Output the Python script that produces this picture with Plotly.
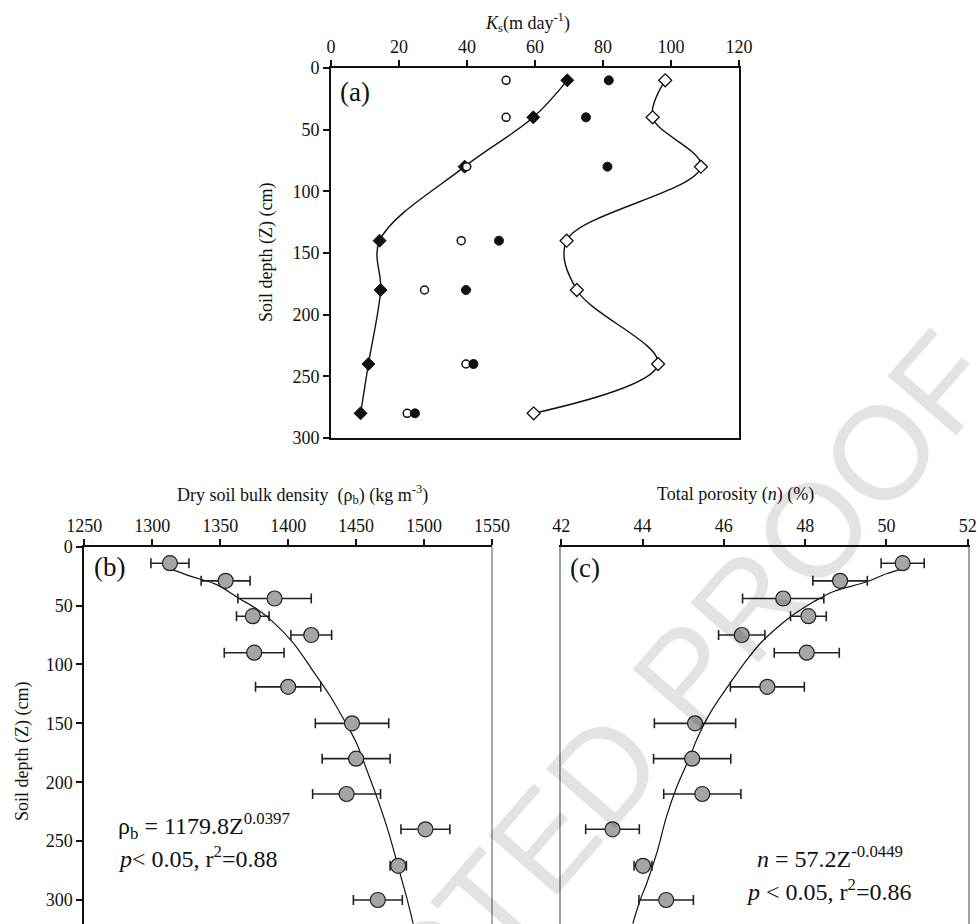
import plotly.graph_objects as go

# ---------------- data ----------------
# Panel (a): saturated hydraulic conductivity Ks (m/day) vs depth (cm)
depth_a = [10, 40, 80, 140, 180, 240, 280]
ks_filled_diamond = [69.5, 59.5, 39.3, 14.3, 14.6, 11.0, 8.7]
ks_open_diamond = [98.3, 94.6, 108.8, 69.3, 72.3, 96.2, 59.6]
ks_open_circle = [51.5, 51.5, 39.9, 38.3, 27.5, 39.7, 22.4]
ks_filled_circle = [81.7, 75.0, 81.3, 49.4, 39.7, 41.9, 24.7]

# Panels (b) and (c): depth (cm)
depth_bc = [14, 29, 44, 59, 75, 90, 119, 150, 180, 210, 240, 271, 300]
# (b) dry bulk density (kg m-3) and error
rho = [1313, 1354, 1390, 1374, 1417, 1375, 1400, 1447, 1450, 1443, 1501, 1481, 1466]
rho_err = [14, 18, 27, 12, 15, 22, 24, 27, 25, 25, 18, 6, 18]
# (c) total porosity (%) and error
por = [50.40, 48.86, 47.46, 48.08, 46.44, 48.04, 47.07, 45.29, 45.22, 45.47, 43.26, 44.01, 44.58]
por_err = [0.53, 0.67, 1.0, 0.44, 0.57, 0.8, 0.91, 1.0, 0.95, 0.95, 0.66, 0.22, 0.67]

# fitted curves
fit_b_depth = [19, 25, 32, 44, 53, 64, 82, 105, 127, 149, 166, 190, 215, 243, 272, 297, 320]
fit_b_rho = [1314, 1328, 1347, 1364, 1377, 1389, 1404, 1418, 1431, 1442, 1450, 1458, 1466, 1474, 1481, 1487, 1492]
fit_c_depth = [19, 23, 30, 38, 47, 58, 69, 82, 99, 116, 142, 164, 178, 204, 229, 260, 286, 300, 320]
fit_c_por = [50.38, 50.0, 49.5, 48.7, 48.2, 47.7, 47.3, 46.9, 46.5, 46.15, 45.65, 45.33, 45.17, 44.84, 44.59, 44.35, 44.1, 43.94, 43.76]

# ---------------- figure ----------------
W, H = 978, 924
SERIF = "Liberation Serif, Times New Roman, serif"
BLACK = "#111111"
GRAY_LINE = "#a0a0a0"
MARKER_GRAY = "#a4a4a9"

def px_x(p):
    return p / W

def px_y(p):
    return 1 - p / H

fig = go.Figure()

# Panel (a)
fig.add_trace(go.Scatter(x=ks_filled_diamond, y=depth_a, mode="lines+markers", xaxis="x", yaxis="y",
                         line=dict(color=BLACK, width=1.4, shape="spline", smoothing=1.0),
                         marker=dict(symbol="diamond", size=10, color=BLACK, line=dict(color=BLACK, width=1))))
fig.add_trace(go.Scatter(x=ks_open_diamond, y=depth_a, mode="lines+markers", xaxis="x", yaxis="y",
                         line=dict(color=BLACK, width=1.4, shape="spline", smoothing=1.0),
                         marker=dict(symbol="diamond", size=10, color="white", line=dict(color=BLACK, width=1.3))))
fig.add_trace(go.Scatter(x=ks_open_circle, y=depth_a, mode="markers", xaxis="x", yaxis="y",
                         marker=dict(symbol="circle", size=8, color="white", line=dict(color=BLACK, width=1.5))))
fig.add_trace(go.Scatter(x=ks_filled_circle, y=depth_a, mode="markers", xaxis="x", yaxis="y",
                         marker=dict(symbol="circle", size=9, color=BLACK, line=dict(color=BLACK, width=1))))

# Panel (b)
fig.add_trace(go.Scatter(x=fit_b_rho, y=fit_b_depth, mode="lines", xaxis="x2", yaxis="y2",
                         line=dict(color=BLACK, width=1.2, shape="spline")))
fig.add_trace(go.Scatter(x=rho, y=depth_bc, mode="markers", xaxis="x2", yaxis="y2",
                         error_x=dict(type="data", array=rho_err, color="#222222", thickness=1.6, width=5),
                         marker=dict(symbol="circle", size=15, color=MARKER_GRAY, line=dict(color="#222222", width=1.2))))

# Panel (c)
fig.add_trace(go.Scatter(x=fit_c_por, y=fit_c_depth, mode="lines", xaxis="x3", yaxis="y3",
                         line=dict(color=BLACK, width=1.2, shape="spline")))
fig.add_trace(go.Scatter(x=por, y=depth_bc, mode="markers", xaxis="x3", yaxis="y3",
                         error_x=dict(type="data", array=por_err, color="#222222", thickness=1.6, width=5),
                         marker=dict(symbol="circle", size=15, color=MARKER_GRAY, line=dict(color="#222222", width=1.2))))

tickfont = dict(family=SERIF, size=18, color=BLACK)
common = dict(showgrid=False, zeroline=False, showline=True, linewidth=1.8, linecolor=BLACK,
              ticks="outside", ticklen=6, tickwidth=1.5, tickcolor=BLACK, tickfont=tickfont,
              automargin=False)

fig.update_layout(
    template="none",
    width=W, height=H,
    margin=dict(l=0, r=0, t=0, b=0, pad=0, autoexpand=False),
    paper_bgcolor="white", plot_bgcolor="white",
    font=dict(family=SERIF, size=18, color=BLACK),
    showlegend=False,
    xaxis=dict(domain=[px_x(331), px_x(739)], range=[0, 120], dtick=20, tick0=0, side="top",
               anchor="y", mirror=True, **common),
    yaxis=dict(domain=[px_y(438), px_y(68)], range=[300, 0], dtick=50, tick0=0,
               anchor="x", mirror=True, **common),
    xaxis2=dict(domain=[px_x(84.3), px_x(492)], range=[1250, 1550], dtick=50, tick0=1250, side="top",
                anchor="y2", **common),
    yaxis2=dict(domain=[0, px_y(546.7)], range=[320.4, 0], dtick=50, tick0=0,
                anchor="x2", **common),
    xaxis3=dict(domain=[px_x(561.3), px_x(967.7)], range=[42, 52], dtick=2, tick0=42, side="top",
                anchor="y3", **common),
    yaxis3=dict(domain=[0, px_y(546.7)], range=[320.4, 0], anchor="x3", showgrid=False, zeroline=False,
                showline=True, linecolor=GRAY_LINE, linewidth=1.8, mirror=True,
                showticklabels=False, ticks="", automargin=False),
)

# right border of panel (b) in gray
fig.add_shape(type="line", xref="x2 domain", yref="y2 domain", x0=1, x1=1, y0=0, y1=1,
              line=dict(color=GRAY_LINE, width=1.8))

def ann(text, x, y, size, xanchor="center", yanchor="middle", angle=0, color=BLACK, family=SERIF):
    fig.add_annotation(text=text, x=px_x(x), y=px_y(y), xref="paper", yref="paper",
                       xanchor=xanchor, yanchor=yanchor, showarrow=False, textangle=angle,
                       font=dict(family=family, size=size, color=color))

# watermark (drawn first so other texts sit on top of it)
ann("UNCORRECTED PROOF", 465, 932, 132, angle=-49, color="rgba(0,0,0,0.11)",
    family="Liberation Sans, Arial, sans-serif")

# axis titles
ann("<i>K</i><sub>s</sub>(m day<sup>-1</sup>)", 527, 22, 18)
ann("Soil depth (Z) (cm)", 266, 253, 18, angle=-90)
ann("Dry soil bulk density  (ρ<sub>b</sub>) (kg m<sup>-3</sup>)", 302, 494, 18)
ann("Soil depth (Z) (cm)", 22, 752, 18, angle=-90)
ann("Total porosity (<i>n</i>) (%)", 735, 494, 18)

# panel labels
ann("(a)", 355, 92, 27)
ann("(b)", 109, 567, 27)
ann("(c)", 585, 568, 27)

# equations
ann("ρ<sub>b</sub> = 1179.8Z<sup>0.0397</sup>", 116, 826, 24, xanchor="left")
ann("<i>p</i>< 0.05, r<sup>2</sup>=0.88", 116, 857, 24, xanchor="left")
ann("<i>n</i> = 57.2Z<sup>-0.0449</sup>", 830, 857, 24)
ann("<i>p</i> < 0.05, r<sup>2</sup>=0.86", 828, 890, 24)

fig.write_html("out.html",
               config={"displayModeBar": False},
               post_script="document.body.style.margin='0px';document.body.style.padding='0px';"
                           "document.documentElement.style.overflow='hidden';")
